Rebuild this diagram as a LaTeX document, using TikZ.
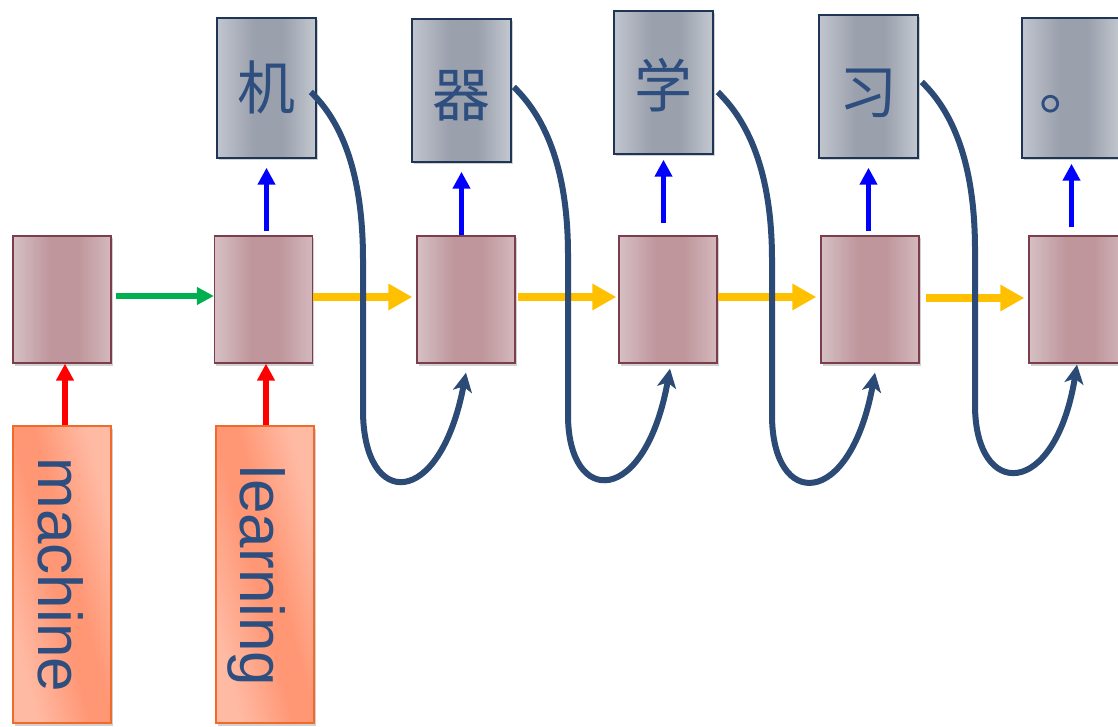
\documentclass[tikz,border=0pt]{standalone}
\usepackage{fontspec}
\setmainfont{Liberation Sans}
\newfontfamily\cjk{Noto Sans CJK SC}
\usetikzlibrary{arrows.meta,calc,shadows}
\definecolor{topL}{HTML}{C0C5CE}
\definecolor{topM}{HTML}{9AA0AC}
\definecolor{topR}{HTML}{C3C8D0}
\definecolor{topB}{HTML}{1F3556}
\definecolor{pinkL}{HTML}{D6C0C4}
\definecolor{pinkM}{HTML}{BE969C}
\definecolor{pinkR}{HTML}{D4B9BD}
\definecolor{pinkB}{HTML}{7C3D4C}
\definecolor{orL}{HTML}{FFBAA4}
\definecolor{orM}{HTML}{FF9775}
\definecolor{orB}{HTML}{F06A2A}
\definecolor{txt}{HTML}{2D4E7E}
\definecolor{curveC}{HTML}{2B4A75}
\definecolor{greenC}{HTML}{00B050}
\definecolor{yellowC}{HTML}{FFC000}
\pgfdeclarehorizontalshading{topshade}{100bp}{color(0bp)=(topL); color(25bp)=(topL); color(44bp)=(topM); color(58bp)=(topM); color(75bp)=(topR); color(100bp)=(topR)}
\pgfdeclarehorizontalshading{pinkshade}{100bp}{color(0bp)=(pinkL); color(25bp)=(pinkL); color(44bp)=(pinkM); color(58bp)=(pinkM); color(75bp)=(pinkR); color(100bp)=(pinkR)}
\pgfdeclarehorizontalshading{orshade}{100bp}{color(0bp)=(orL); color(28bp)=(orL); color(46bp)=(orM); color(54bp)=(orM); color(72bp)=(orL); color(100bp)=(orL)}
\tikzset{
  softshadow/.style={drop shadow={shadow xshift=1.5pt,shadow yshift=-2.5pt,fill=black,opacity=0.18}},
  topbox/.style={draw=topB,line width=1.5pt,inner sep=0pt,minimum width=99pt,minimum height=142pt,
    shade,shading=topshade,softshadow},
  pinkbox/.style={draw=pinkB,line width=1.3pt,inner sep=0pt,minimum width=98pt,minimum height=127pt,
    shade,shading=pinkshade,softshadow},
  wordbox/.style={draw=orB,line width=1.3pt,inner sep=0pt,minimum width=98pt,minimum height=297pt,
    shade,shading=orshade,shading angle=15,softshadow},
  cjkchar/.style={text=txt,font=\cjk\fontsize{58}{60}\selectfont,text height=51pt,text depth=7pt,inner sep=0pt},
  wordtext/.style={text=txt,font=\fontsize{62}{70}\selectfont,rotate=-90,inner sep=0pt},
  bluearrow/.style={draw=blue,line width=5.5pt,-{Triangle[length=17pt,width=17pt]}},
  redarrow/.style={draw=red,line width=5.5pt,-{Triangle[length=17pt,width=17pt]}},
  greenarrow/.style={draw=greenC,line width=5.5pt,-{Triangle[length=17pt,width=17pt]}},
  yellowarrow/.style={draw=yellowC,line width=8pt,-{Triangle[length=24pt,width=25pt]}},
  curvearrow/.style={draw=curveC,line width=6pt,-{Stealth[length=19pt,width=19pt,inset=5pt]}}
}
\begin{document}
\begin{tikzpicture}[x=1pt,y=-1pt]
\useasboundingbox (0,0) rectangle (1118,727);
% top output boxes
\node[topbox,minimum height=140pt] (t1) at (266.5,88) {};
\node[topbox,minimum height=143pt] (t2) at (461.5,90.5) {};
\node[topbox,minimum height=143pt] (t3) at (663.5,82.5) {};
\node[topbox,minimum height=143pt] (t4) at (868.5,86.5) {};
\node[topbox,minimum height=140pt] (t5) at (1071.5,88) {};
\node[cjkchar] (c1) at (t1) {机};
\node[cjkchar] (c2) at ([yshift=-4pt]t2.center) {器};
\node[cjkchar] (c3) at ([yshift=-3pt]t3.center) {学};
\node[cjkchar] (c4) at ([yshift=-5pt]t4.center) {习};
\node[cjkchar] (c5) at ([xshift=-3pt]t5.center) {。};
% middle hidden-state boxes
\node[pinkbox] (p0) at (62,299.5) {};
\node[pinkbox] (p1) at (263.5,299.5) {};
\node[pinkbox] (p2) at (466,299.5) {};
\node[pinkbox] (p3) at (668,299.5) {};
\node[pinkbox] (p4) at (870,299.5) {};
\node[pinkbox] (p5) at (1078,299.5) {};
% bottom input boxes
\node[wordbox] (b0) at (62,574.5) {};
\node[wordbox] (b1) at (265,574.5) {};
\node[wordtext] (w0) at (60.5,575) {machine};
\node[wordtext] (w1) at (257,576) {learning};
% input arrows
\draw[redarrow] ([xshift=3pt]b0.north) -- ([xshift=3pt]p0.south);
\draw[redarrow] ([xshift=1pt]b1.north) -- ([xshift=1pt]b1.north |- p1.south);
% recurrent arrows
\draw[greenarrow,shorten <=4pt] ([yshift=3.5pt]p0.east) -- ([yshift=3.5pt]p1.west);
\draw[yellowarrow,shorten >=4pt] ([yshift=2.5pt]p1.east) -- ([yshift=2.5pt]p2.west);
\draw[yellowarrow,shorten <=2pt,shorten >=2pt] ([yshift=2.5pt]p2.east) -- ([yshift=2.5pt]p3.west);
\draw[yellowarrow,shorten >=4pt] ([yshift=2.5pt]p3.east) -- ([yshift=2.5pt]p4.west);
\draw[yellowarrow,shorten <=6pt,shorten >=4pt] ([yshift=1.5pt]p4.east) -- ([yshift=1.5pt]p5.west);
% output arrows
\draw[bluearrow,shorten <=4pt,shorten >=9pt] (t1.south |- p1.north) -- (t1.south);
\draw[bluearrow,shorten >=9pt] (t2.south |- p2.north) -- (t2.south);
\draw[bluearrow,shorten <=12pt,shorten >=5pt] (t3.south |- p3.north) -- (t3.south);
\draw[bluearrow,shorten <=4pt,shorten >=9pt] (t4.south |- p4.north) -- (t4.south);
\draw[bluearrow,shorten <=8pt,shorten >=5pt] (t5.south |- p5.north) -- (t5.south);
% feedback curves
\draw[curvearrow] ($(t1.east)+(-6,4)$) .. controls (340,120) and (363,170) .. (363,260)
  -- (363,410) .. controls (363,510) and (440,510) .. ($(p2.south)+(0,9)$);
\draw[curvearrow] ($(t2.east)+(2,-3.5)$) .. controls (543,115) and (568,165) .. (568,255)
  -- (568,415) .. controls (568,507) and (645,507) .. ($(p3.south)+(2,5)$);
\draw[curvearrow] ($(t3.east)+(4,9.5)$) .. controls (747,120) and (772,170) .. (772,260)
  -- (772,415) .. controls (772,510) and (850,510) .. ($(p4.south)+(5,9)$);
\draw[curvearrow] ($(t4.east)+(3,-4.5)$) .. controls (951,110) and (975,160) .. (975,250)
  -- (975,405) .. controls (975,500) and (1055,500) .. ($(p5.south)+(-1,1)$);
\end{tikzpicture}
\end{document}
